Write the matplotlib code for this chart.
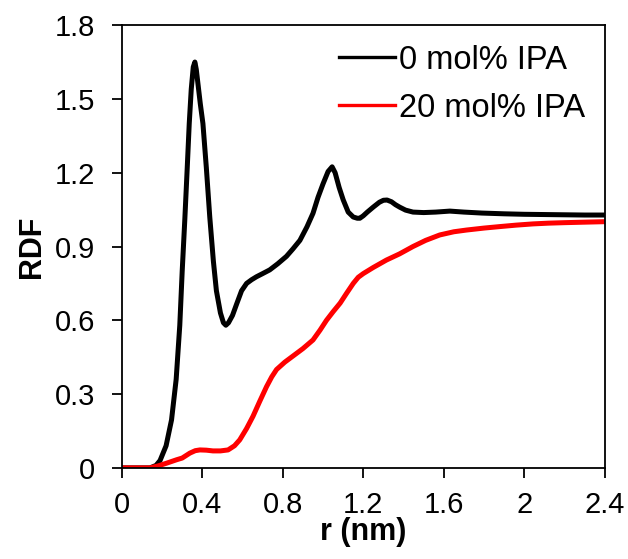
import matplotlib
matplotlib.use("Agg")
import matplotlib.pyplot as plt
from matplotlib.ticker import FuncFormatter

plt.rcParams['font.family'] = ['Liberation Sans', 'DejaVu Sans']

# 0 mol% IPA
r_0 = [0.0, 0.10, 0.14, 0.17, 0.19, 0.22, 0.247, 0.27, 0.288, 0.30, 0.313,
       0.325, 0.335, 0.345, 0.355, 0.363, 0.37, 0.38, 0.39, 0.403, 0.42,
       0.437, 0.455, 0.47, 0.49, 0.505, 0.517, 0.53, 0.55, 0.57, 0.595, 0.62,
       0.645, 0.669, 0.70, 0.735, 0.775, 0.818, 0.85, 0.885, 0.92, 0.95,
       0.975, 1.0, 1.025, 1.045, 1.06, 1.08, 1.10, 1.125, 1.15, 1.17, 1.183,
       1.20, 1.22, 1.249, 1.28, 1.30, 1.318, 1.34, 1.36, 1.381, 1.41, 1.447,
       1.50, 1.56, 1.63, 1.70, 1.79, 1.90, 2.0, 2.1, 2.2, 2.3, 2.4]
rdf_0 = [0.0, 0.0, 0.0, 0.01, 0.03, 0.09, 0.195, 0.36, 0.58, 0.80, 1.01,
         1.22, 1.40, 1.54, 1.63, 1.65, 1.62, 1.55, 1.48, 1.40, 1.22,
         1.02, 0.84, 0.72, 0.63, 0.59, 0.58, 0.59, 0.62, 0.665, 0.72, 0.75,
         0.765, 0.777, 0.79, 0.805, 0.83, 0.86, 0.89, 0.925, 0.98, 1.035,
         1.10, 1.155, 1.205, 1.224, 1.20, 1.14, 1.09, 1.04, 1.02, 1.015, 1.015,
         1.025, 1.04, 1.06, 1.08, 1.088, 1.089, 1.082, 1.07, 1.06, 1.048, 1.04,
         1.038, 1.04, 1.044, 1.04, 1.036, 1.033, 1.031, 1.03, 1.029, 1.028, 1.028]

# 20 mol% IPA
r_20 = [0.0, 0.10, 0.14, 0.18, 0.222, 0.272, 0.30, 0.338, 0.365, 0.388,
        0.42, 0.453, 0.49, 0.528, 0.56, 0.586, 0.62, 0.652, 0.685, 0.719,
        0.745, 0.769, 0.81, 0.851, 0.90, 0.95, 0.985, 1.017, 1.05, 1.085,
        1.117, 1.15, 1.175, 1.2, 1.25, 1.315, 1.38, 1.447, 1.51, 1.58, 1.65,
        1.713, 1.80, 1.878, 1.96, 2.044, 2.12, 2.2, 2.3, 2.4]
rdf_20 = [0.0, 0.0, 0.0, 0.008, 0.019, 0.033, 0.04, 0.06, 0.07, 0.073,
          0.072, 0.069, 0.069, 0.073, 0.09, 0.114, 0.16, 0.21, 0.27, 0.33,
          0.37, 0.40, 0.43, 0.455, 0.485, 0.52, 0.56, 0.60, 0.635, 0.67,
          0.71, 0.75, 0.775, 0.79, 0.815, 0.845, 0.87, 0.90, 0.925, 0.947, 0.96,
          0.967, 0.975, 0.981, 0.987, 0.992, 0.995, 0.997, 0.999, 1.001]

x_ticks = [0, 0.4, 0.8, 1.2, 1.6, 2.0, 2.4]
y_ticks = [0, 0.3, 0.6, 0.9, 1.2, 1.5, 1.8]

fig = plt.figure(figsize=(6.28, 5.59), dpi=100)
ax = fig.add_axes([0.194, 0.163, 0.769, 0.792])

ax.plot(r_0, rdf_0, color='black', lw=3.6, label='0 mol% IPA')
ax.plot(r_20, rdf_20, color='#ff0000', lw=3.6, label='20 mol% IPA')

ax.set_xlim(0, 2.4)
ax.set_ylim(0, 1.8)
ax.set_xticks(x_ticks)
ax.set_yticks(y_ticks)
ax.xaxis.set_major_formatter(FuncFormatter(lambda v, p: '%g' % v))
ax.yaxis.set_major_formatter(FuncFormatter(lambda v, p: '%g' % v))
ax.tick_params(direction='out', length=7, width=1.3, labelsize=21)
ax.tick_params(axis='y', pad=12)
ax.tick_params(axis='x', pad=10)
for s in ax.spines.values():
    s.set_linewidth(1.3)

ax.set_xlabel('r (nm)', fontsize=22, fontweight='bold', labelpad=-2)
ax.set_ylabel('RDF', fontsize=22, fontweight='bold', labelpad=6)

leg = ax.legend(loc='upper right', bbox_to_anchor=(1.0, 1.0), frameon=False,
                fontsize=23.5, handlelength=1.72, handletextpad=0.12,
                labelspacing=0.52, borderaxespad=0.2)
for ln in leg.get_lines():
    ln.set_linewidth(2.4)

fig.savefig('out.png', dpi=100)
